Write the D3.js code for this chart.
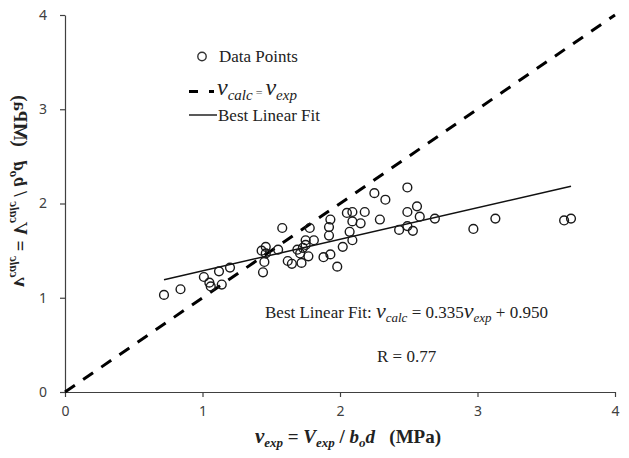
<!DOCTYPE html>
<html>
<head>
<meta charset="utf-8">
<script src="https://cdn.jsdelivr.net/npm/d3@7"></script>
<style>
  html, body { margin: 0; padding: 0; background: #fff; }
  svg { display: block; }
</style>
</head>
<body>
<script>
// Measured punching-shear stress vs. calculated stress (MPa)
const vExp = [0.72, 0.84, 1.01, 1.05, 1.06, 1.14, 1.12, 1.20, 1.43, 1.46, 1.46, 1.45, 1.44,
  1.55, 1.58, 1.62, 1.65, 1.69, 1.72, 1.71, 1.73, 1.75, 1.77, 1.78, 1.81, 1.88, 1.93, 1.98,
  1.92, 1.93, 1.92, 2.02, 2.05, 2.09, 2.09, 2.07, 2.09, 2.15, 2.18, 2.25, 2.33, 2.29, 2.49,
  2.49, 2.56, 2.58, 2.69, 2.43, 2.49, 2.53, 2.97, 3.13, 3.63, 3.68, 1.75];
const vCalc = [1.03, 1.09, 1.22, 1.16, 1.12, 1.14, 1.28, 1.32, 1.50, 1.54, 1.47, 1.38, 1.27,
  1.51, 1.74, 1.39, 1.36, 1.51, 1.37, 1.47, 1.53, 1.61, 1.44, 1.74, 1.61, 1.43, 1.46, 1.33,
  1.75, 1.83, 1.66, 1.54, 1.90, 1.91, 1.81, 1.70, 1.61, 1.79, 1.91, 2.11, 2.04, 1.83, 2.17,
  1.91, 1.97, 1.86, 1.84, 1.72, 1.76, 1.71, 1.73, 1.84, 1.82, 1.84, 1.56];
const fitSlope = 0.335;
const fitIntercept = 0.950;
const fitR = 0.77;
const tickValues = [0, 1, 2, 3, 4];

const W = 629, H = 458;
const serif = "'Liberation Serif', 'Times New Roman', serif";
const sans = "'Noto Sans', 'Liberation Sans', sans-serif";

const svg = d3.select("body").append("svg").attr("width", W).attr("height", H);

const x = d3.scaleLinear().domain([0, 4]).range([65, 615]);
const y = d3.scaleLinear().domain([0, 4]).range([392, 15]);

// axes
const xAxis = svg.append("g").attr("transform", `translate(0,${y(0)})`)
  .call(d3.axisBottom(x).tickValues(tickValues).tickFormat(d3.format("d")).tickSize(5).tickSizeOuter(0).tickPadding(9));
const yAxis = svg.append("g").attr("transform", `translate(${x(0)},0)`)
  .call(d3.axisLeft(y).tickValues(tickValues).tickFormat(d3.format("d")).tickSize(5).tickSizeOuter(0).tickPadding(13));
[xAxis, yAxis].forEach(g => {
  g.select(".domain").attr("stroke", "#404040").attr("stroke-width", 1.2);
  g.selectAll(".tick line").attr("stroke", "#404040").attr("stroke-width", 1.2);
  g.selectAll(".tick text").attr("font-family", sans).attr("font-size", 14).attr("fill", "#404040");
});

// identity line v_calc = v_exp
svg.append("line")
  .attr("x1", x(0)).attr("y1", y(0)).attr("x2", x(4)).attr("y2", y(4))
  .attr("stroke", "#000").attr("stroke-width", 3).attr("stroke-dasharray", "12,10");

// best linear fit over the data range
const [xMin, xMax] = d3.extent(vExp);
svg.append("line")
  .attr("x1", x(xMin)).attr("y1", y(fitSlope * xMin + fitIntercept))
  .attr("x2", x(xMax)).attr("y2", y(fitSlope * xMax + fitIntercept))
  .attr("stroke", "#111").attr("stroke-width", 1.5);

// data points
svg.append("g").selectAll("circle").data(vExp).join("circle")
  .attr("cx", d => x(d)).attr("cy", (d, i) => y(vCalc[i]))
  .attr("r", 4.4).attr("fill", "none").attr("stroke", "#1a1a1a").attr("stroke-width", 1.4);

// helper to write rich text runs
function rich(sel, runs) {
  runs.forEach(r => {
    const t = sel.append("tspan").text(r.t);
    if (r.i) t.attr("font-style", "italic");
    if (r.s) t.attr("font-size", r.s);
    if (r.dy) t.attr("dy", r.dy);
    if (r.fill) t.attr("fill", r.fill);
  });
  return sel;
}

// legend
const lg = svg.append("g");
lg.append("circle").attr("cx", 202).attr("cy", 56.5).attr("r", 4.2)
  .attr("fill", "none").attr("stroke", "#333").attr("stroke-width", 1.4);
lg.append("text").attr("x", 219).attr("y", 62).attr("font-family", serif).attr("font-size", 17)
  .attr("fill", "#222").text("Data Points");
lg.append("line").attr("x1", 189).attr("x2", 214).attr("y1", 91.5).attr("y2", 91.5)
  .attr("stroke", "#000").attr("stroke-width", 3).attr("stroke-dasharray", "9,11");
rich(lg.append("text").attr("x", 217).attr("y", 95).attr("font-family", serif).attr("font-size", 24).attr("fill", "#222"), [
  { t: "v", i: true },
  { t: "calc", i: true, s: 15, dy: 5 },
  { t: " = ", s: 12, dy: -3, fill: "#666" },
  { t: "v", i: true, dy: -2 },
  { t: "exp", i: true, s: 15, dy: 5 }
]);
lg.append("line").attr("x1", 189).attr("x2", 217).attr("y1", 115).attr("y2", 115)
  .attr("stroke", "#222").attr("stroke-width", 1.5);
lg.append("text").attr("x", 218).attr("y", 120.5).attr("font-family", serif).attr("font-size", 17)
  .attr("fill", "#222").text("Best Linear Fit");

// fit annotation
rich(svg.append("text").attr("x", 265).attr("y", 318).attr("font-family", serif).attr("font-size", 17).attr("fill", "#222"), [
  { t: "Best Linear Fit: " },
  { t: "v", i: true, s: 22 },
  { t: "calc", i: true, s: 13, dy: 4 },
  { t: " = " + fitSlope.toFixed(3), dy: -4 },
  { t: "v", i: true, s: 22 },
  { t: "exp", i: true, s: 13, dy: 4 },
  { t: " + " + fitIntercept.toFixed(3), dy: -4 }
]);
svg.append("text").attr("x", 377).attr("y", 362).attr("font-family", serif).attr("font-size", 17)
  .attr("fill", "#222").text("R = " + fitR.toFixed(2));

// axis title runs: main symbol, subscript, then the rest
function titleRuns(sub) {
  return [
    { t: "v", i: true, s: 21 },
    { t: sub, i: true, s: 13, dy: 4 },
    { t: " = ", dy: -4 },
    { t: "V", i: true },
    { t: sub, i: true, s: 13, dy: 4 },
    { t: " / ", dy: -4 },
    { t: "b", i: true },
    { t: "o", i: true, s: 13, dy: 4 },
    { t: "d", i: true, dy: -4 },
    { t: "\u00a0\u00a0\u00a0(MPa)" }
  ];
}

// x-axis title
rich(svg.append("text").attr("x", 348).attr("y", 443).attr("text-anchor", "middle")
  .attr("font-family", serif).attr("font-size", 19).attr("font-weight", "bold").attr("fill", "#222"),
  titleRuns("exp"));

// y-axis title (drawn flipped, as in the source figure)
rich(svg.append("text").attr("transform", "translate(14,191) rotate(-90) scale(1,-1)")
  .attr("text-anchor", "middle")
  .attr("font-family", serif).attr("font-size", 19).attr("font-weight", "bold").attr("fill", "#222"),
  titleRuns("calc"));
</script>
</body>
</html>
